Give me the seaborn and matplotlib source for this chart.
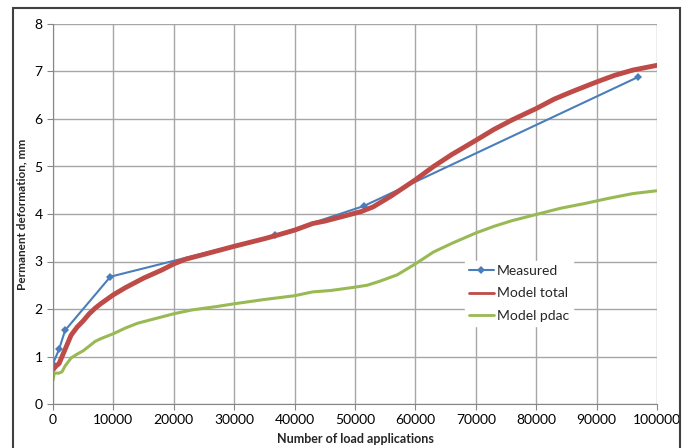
import numpy as np
import pandas as pd
import matplotlib
matplotlib.use("Agg")
import matplotlib.pyplot as plt
import seaborn as sns
from matplotlib.patches import Rectangle

# measured points
meas_x = [0, 1000, 2000, 9500, 36800, 51500, 96800]
meas_y = [0.85, 1.15, 1.55, 2.68, 3.55, 4.17, 6.88]

# model total
tot_x = [0, 500, 1000, 1500, 2000, 3000, 4000, 5000, 6000, 7000, 8000, 10000,
         12000, 15000, 18000, 20000, 22000, 25000, 30000, 35000, 37000, 40000,
         43000, 45000, 48000, 51000, 53000, 56000, 60000, 63000, 66000, 70000,
         73000, 76000, 80000, 83000, 86000, 90000, 93000, 96000, 100000]
tot_y = [0.72, 0.8, 0.85, 1.0, 1.15, 1.45, 1.62, 1.75, 1.9, 2.02, 2.12, 2.3,
         2.45, 2.65, 2.82, 2.95, 3.05, 3.15, 3.32, 3.48, 3.55, 3.66,
         3.8, 3.85, 3.95, 4.05, 4.15, 4.38, 4.72, 5.0, 5.25, 5.55,
         5.78, 5.98, 6.22, 6.42, 6.58, 6.78, 6.92, 7.03, 7.13]

# model pdac
pdac_x = [0, 200, 1000, 1500, 2000, 3000, 4000, 5000, 6000, 7000, 8000, 10000,
          12000, 14000, 17000, 20000, 23000, 27000, 30000, 35000, 40000, 43000,
          46000, 50000, 52000, 54000, 57000, 60000, 63000, 66000, 70000, 73000,
          76000, 80000, 84000, 88000, 92000, 96000, 100000]
pdac_y = [0.5, 0.65, 0.65, 0.68, 0.8, 0.97, 1.05, 1.12, 1.22, 1.32, 1.38, 1.48,
          1.6, 1.7, 1.8, 1.9, 1.98, 2.05, 2.11, 2.2, 2.28, 2.36,
          2.39, 2.46, 2.5, 2.58, 2.72, 2.95, 3.2, 3.38, 3.6, 3.74,
          3.86, 3.99, 4.12, 4.22, 4.33, 4.43, 4.49]

sns.set_style("white")
plt.rcParams['font.family'] = ['Lato', 'DejaVu Sans']

fig = plt.figure(figsize=(6.87, 4.48), dpi=100)
ax = fig.add_axes([53/687, 44/448, 604/687, 380/448])

sns.lineplot(x=meas_x, y=meas_y, ax=ax, color='#4A7EBB', lw=1.5, marker='D',
             markersize=4.5, markeredgewidth=0, label='Measured')
sns.lineplot(x=tot_x, y=tot_y, ax=ax, color='#BE4B48', lw=3.5, label='Model total')
sns.lineplot(x=pdac_x, y=pdac_y, ax=ax, color='#98B954', lw=2.2, label='Model pdac')

ax.set_xlim(0, 100000)
ax.set_ylim(0, 8)
ax.set_xticks(range(0, 100001, 10000))
ax.set_yticks(range(0, 9))
ax.grid(True, color='#A6A6A6', lw=1)
ax.set_axisbelow(True)
for s in ['top', 'right']:
    ax.spines[s].set_visible(False)
for s in ['left', 'bottom']:
    ax.spines[s].set_color('#868686')
ax.tick_params(axis='both', labelsize=10, colors='#868686', labelcolor='black',
               length=4, direction='out', left=True, bottom=True)
ax.set_xlabel('Number of load applications', fontsize=9, fontweight='bold', labelpad=5)
ax.set_ylabel('Permanent deformation, mm', fontsize=8.5, fontweight='bold', labelpad=5)

leg = ax.legend(loc='upper left', bbox_to_anchor=(0.67, 0.395), frameon=True,
                fontsize=10, handlelength=1.8, handletextpad=0.2, labelspacing=0.75,
                fancybox=False, borderpad=0.3)
leg.get_frame().set_edgecolor('white')
leg.get_frame().set_alpha(1)
leg.legend_handles[1].set_linewidth(2)
leg.legend_handles[2].set_linewidth(2)

fig.patches.append(Rectangle((13/687, -0.1), 667/687, 1.1 - 8/448,
                             transform=fig.transFigure, fill=False,
                             edgecolor='#404040', lw=1.5))

fig.savefig('out.png', dpi=100)
